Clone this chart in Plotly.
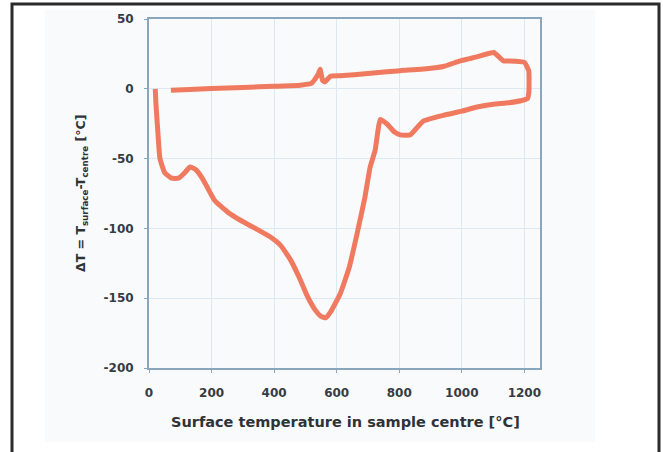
import plotly.graph_objects as go

# Surface temperature in sample centre [°C]
surface_temp = [20, 22, 28, 35, 50, 72, 95, 115, 131, 150, 170, 185, 210, 250, 291, 340, 387, 420, 451, 480,
                505, 530, 550, 565, 580, 611, 640, 665, 690, 707, 723, 732, 739, 760, 785, 803, 835, 860, 878,
                941, 1000, 1049, 1101, 1150, 1198, 1210, 1214, 1215, 1214, 1200, 1150, 1134, 1118, 1102, 1050,
                995, 941, 870, 803, 700, 611, 580, 563, 555, 547, 540, 520, 483, 400, 300, 200, 130, 70]
# ΔT = T_surface - T_centre [°C]
delta_t = [0, -10, -30, -50, -60, -64, -64, -60, -56, -58, -64, -70, -80, -88, -94, -100, -106, -112, -122, -135,
           -148, -158, -163, -164, -160, -147, -128, -104, -78, -56, -44, -30, -22, -25, -31, -33, -33, -27, -23,
           -19, -16, -13, -11, -10, -8, -7, -3, 5, 13, 19, 20, 20, 23, 26, 23,
           20, 16, 14, 13, 11, 9.3, 9, 5, 6, 14, 10, 4, 2.5, 1.8, 1, 0.2, -0.5, -1]

x_ticks = [0, 200, 400, 600, 800, 1000, 1200]
y_ticks = [-200, -150, -100, -50, 0, 50]

W, H = 663, 452
L, R, T, B = 149, 540, 19, 368
pw, ph = R - L, B - T
FONT = "DejaVu Sans, Arial, sans-serif"


def px(x):
    return (x - L) / pw


def py(y):
    return (B - y) / ph


fig = go.Figure()
fig.add_trace(go.Scatter(
    x=surface_temp, y=delta_t, mode="lines",
    line=dict(color="rgb(240,122,95)", width=5, shape="spline", smoothing=0.4),
    hoverinfo="skip", showlegend=False,
))

axis_common = dict(
    showline=True, linecolor="#8aa6bd", linewidth=2, mirror=True,
    showgrid=True, gridcolor="#dce9f3", gridwidth=1,
    zeroline=False, ticks="outside", ticklen=3, tickcolor="#8aa6bd",
    tickfont=dict(family=FONT, size=12, color="#363c44", weight="bold"),
)

fig.update_xaxes(range=[0, 1250], tickvals=x_ticks, ticktext=[str(v) for v in x_ticks],
                 ticklabelstandoff=10, **axis_common)
fig.update_yaxes(range=[-200, 50], tickvals=y_ticks, ticktext=[str(v) for v in y_ticks],
                 ticklabelstandoff=8, **axis_common)

fig.add_annotation(
    text="Surface temperature in sample centre [°C]",
    xref="paper", yref="paper", x=px(345), y=py(422), showarrow=False,
    xanchor="center", yanchor="middle",
    font=dict(family=FONT, size=14.5, color="#2e3338", weight="bold"),
)
fig.add_annotation(
    text="ΔT = T<sub>surface</sub>-T<sub>centre</sub> [°C]",
    xref="paper", yref="paper", x=px(81), y=py(194), showarrow=False, textangle=-90,
    xanchor="center", yanchor="middle",
    font=dict(family=FONT, size=12.5, color="#2e3338", weight="bold"),
)

# faint panel background and outer frame
fig.add_shape(type="rect", xref="paper", yref="paper", layer="below",
              x0=px(45), x1=px(595), y0=py(442), y1=py(10),
              fillcolor="#f9fafc", line=dict(width=0))
fig.add_shape(type="rect", xref="paper", yref="paper",
              x0=px(12), x1=px(659), y0=py(470), y1=py(4),
              fillcolor="rgba(0,0,0,0)", line=dict(color="#2b2b2b", width=3))

fig.update_layout(
    width=W, height=H,
    margin=dict(l=L, r=W - R, t=T, b=H - B),
    paper_bgcolor="white", plot_bgcolor="#fefefe",
)

fig.write_html("out.html", config={"displayModeBar": False},
               post_script="document.body.style.margin='0px';")
